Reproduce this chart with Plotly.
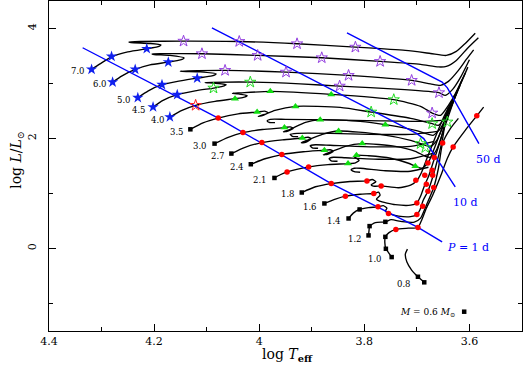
import plotly.graph_objects as go

# ---------------- evolutionary tracks (log Teff, log L/Lsun) ----------------
T70 = [4.319, 4.303, 4.281, 4.250, 4.214, 4.194, 4.187, 4.208, 4.244, 4.248, 4.227, 4.144, 4.038, 3.928, 3.817, 3.722, 3.674, 3.644, 3.625, 3.608, 3.589]
L70 = [3.256, 3.356, 3.483, 3.574, 3.632, 3.664, 3.701, 3.728, 3.746, 3.755, 3.764, 3.770, 3.764, 3.722, 3.661, 3.601, 3.546, 3.510, 3.583, 3.728, 3.915]
T60 = [4.279, 4.261, 4.236, 4.208, 4.173, 4.150, 4.143, 4.170, 4.200, 4.204, 4.189, 4.109, 4.003, 3.881, 3.770, 3.693, 3.659, 3.644, 3.625, 3.604, 3.583]
L60 = [3.025, 3.138, 3.256, 3.338, 3.388, 3.428, 3.465, 3.510, 3.528, 3.537, 3.543, 3.541, 3.510, 3.468, 3.401, 3.347, 3.301, 3.310, 3.419, 3.637, 3.831]
T50 = [4.231, 4.211, 4.185, 4.150, 4.118, 4.090, 4.082, 4.112, 4.147, 4.150, 4.135, 4.065, 3.949, 3.830, 3.710, 3.674, 3.655, 3.640, 3.621, 3.606, 3.592]
L50 = [2.742, 2.866, 2.978, 3.047, 3.098, 3.138, 3.174, 3.211, 3.220, 3.225, 3.230, 3.238, 3.207, 3.147, 3.056, 2.993, 2.966, 3.038, 3.238, 3.437, 3.613]
T45 = [4.202, 4.183, 4.156, 4.122, 4.087, 4.070, 4.063, 4.084, 4.103, 4.090, 4.017, 3.922, 3.847, 3.731, 3.658, 3.646, 3.632, 3.617, 3.600]
L45 = [2.572, 2.693, 2.797, 2.866, 2.917, 2.947, 2.978, 3.005, 3.015, 3.020, 3.025, 2.993, 2.953, 2.893, 2.833, 2.784, 2.893, 3.111, 3.432]
T40 = [4.170, 4.147, 4.121, 4.084, 4.046, 4.030, 4.023, 4.040, 4.051, 4.036, 3.979, 3.863, 3.744, 3.693, 3.671, 3.655, 3.640, 3.621, 3.603]
L40 = [2.390, 2.512, 2.603, 2.675, 2.724, 2.748, 2.779, 2.811, 2.820, 2.829, 2.857, 2.802, 2.706, 2.584, 2.463, 2.421, 2.603, 2.911, 3.298]
T35 = [4.131, 4.107, 4.078, 4.040, 4.004, 3.990, 3.983, 3.994, 4.002, 3.990, 3.970, 3.931, 3.846, 3.787, 3.712, 3.671, 3.659, 3.648, 3.629, 3.608]
L35 = [2.167, 2.285, 2.372, 2.448, 2.481, 2.497, 2.470, 2.416, 2.403, 2.439, 2.512, 2.584, 2.566, 2.481, 2.367, 2.270, 2.240, 2.367, 2.766, 3.189]
T30 = [4.085, 4.059, 4.031, 3.994, 3.952, 3.941, 3.935, 3.947, 3.954, 3.941, 3.912, 3.884, 3.808, 3.760, 3.703, 3.678, 3.669, 3.655, 3.636, 3.614]
L30 = [1.907, 2.022, 2.107, 2.163, 2.198, 2.212, 2.185, 2.131, 2.122, 2.167, 2.294, 2.343, 2.312, 2.252, 2.149, 2.076, 2.058, 2.185, 2.548, 3.069]
T27 = [4.053, 4.027, 3.995, 3.956, 3.918, 3.907, 3.901, 3.912, 3.920, 3.907, 3.880, 3.849, 3.770, 3.712, 3.693, 3.674, 3.661, 3.642, 3.618]
L27 = [1.726, 1.840, 1.926, 1.976, 2.009, 2.022, 1.995, 1.931, 1.922, 1.976, 2.076, 2.136, 2.076, 1.967, 1.907, 1.858, 1.986, 2.421, 2.966]
T24 = [4.016, 3.989, 3.957, 3.916, 3.876, 3.865, 3.859, 3.870, 3.878, 3.865, 3.836, 3.804, 3.741, 3.703, 3.684, 3.674, 3.663, 3.646, 3.623]
L24 = [1.532, 1.632, 1.708, 1.759, 1.786, 1.795, 1.768, 1.713, 1.704, 1.750, 1.858, 1.907, 1.858, 1.768, 1.677, 1.659, 1.786, 2.240, 2.875]
T21 = [3.971, 3.960, 3.947, 3.906, 3.869, 3.831, 3.817, 3.810, 3.819, 3.815, 3.792, 3.750, 3.716, 3.703, 3.690, 3.678, 3.661, 3.644, 3.629]
L21 = [1.283, 1.341, 1.392, 1.483, 1.526, 1.544, 1.559, 1.604, 1.668, 1.695, 1.686, 1.641, 1.550, 1.496, 1.459, 1.568, 1.967, 2.403, 2.779]
T18 = [3.919, 3.893, 3.863, 3.827, 3.795, 3.785, 3.778, 3.787, 3.783, 3.768, 3.735, 3.712, 3.700, 3.691, 3.680, 3.665, 3.650, 3.634]
L18 = [1.018, 1.123, 1.181, 1.218, 1.229, 1.254, 1.214, 1.160, 1.133, 1.138, 1.105, 1.151, 1.236, 1.387, 1.659, 2.022, 2.367, 2.675]
T16 = [3.876, 3.855, 3.836, 3.808, 3.782, 3.773, 3.770, 3.777, 3.771, 3.741, 3.712, 3.700, 3.693, 3.686, 3.677, 3.669, 3.655, 3.640]
L16 = [0.819, 0.897, 0.951, 0.987, 1.000, 1.024, 0.969, 0.897, 0.860, 0.797, 0.788, 0.829, 0.951, 1.133, 1.332, 1.568, 1.967, 2.566]
T14 = [3.830, 3.821, 3.809, 3.792, 3.774, 3.764, 3.757, 3.760, 3.754, 3.735, 3.712, 3.700, 3.694, 3.688, 3.679, 3.670, 3.661, 3.651, 3.644]
L14 = [0.546, 0.643, 0.710, 0.742, 0.757, 0.779, 0.733, 0.679, 0.637, 0.588, 0.579, 0.619, 0.706, 0.878, 1.042, 1.296, 1.604, 2.004, 2.457]
T12 = [3.792, 3.791, 3.790, 3.779, 3.760, 3.749, 3.728, 3.705, 3.693, 3.682, 3.668, 3.659, 3.651, 3.636, 3.621]
L12 = [0.238, 0.334, 0.407, 0.470, 0.485, 0.525, 0.488, 0.479, 0.552, 0.788, 1.109, 1.459, 1.918, 2.185, 2.367]
T10 = [3.748, 3.754, 3.759, 3.761, 3.760, 3.753, 3.740, 3.716, 3.698, 3.691, 3.682, 3.670, 3.655, 3.642, 3.631, 3.608, 3.586, 3.573]
L10 = [-0.156, -0.074, -0.005, 0.107, 0.212, 0.289, 0.347, 0.370, 0.383, 0.515, 0.733, 0.969, 1.314, 1.641, 1.846, 2.149, 2.412, 2.572]
T08 = [3.686, 3.698, 3.710, 3.719, 3.722, 3.718]
L08 = [-0.615, -0.514, -0.392, -0.247, -0.102, -0.011]

# blue loops (core helium burning), from the giant branch back to the loop tip
loop35_T = [3.653, 3.693, 3.770, 3.865, 3.950, 3.979, 3.985, 3.981, 3.970]
loop35_L = [2.330, 2.312, 2.321, 2.339, 2.348, 2.348, 2.321, 2.294, 2.289]
loop30_T = [3.661, 3.712, 3.789, 3.865, 3.928, 3.941, 3.937, 3.926]
loop30_L = [2.131, 2.076, 2.076, 2.094, 2.094, 2.076, 2.040, 2.035]
loop27_T = [3.667, 3.712, 3.789, 3.865, 3.893, 3.903, 3.899, 3.888]
loop27_L = [1.949, 1.858, 1.849, 1.877, 1.886, 1.868, 1.831, 1.822]
loop24_T = [3.670, 3.712, 3.770, 3.836, 3.859, 3.867, 3.863, 3.851]
loop24_L = [1.731, 1.632, 1.623, 1.650, 1.659, 1.632, 1.595, 1.586]
loop21_T = [3.678, 3.712, 3.760, 3.808, 3.819, 3.825, 3.819, 3.808]
loop21_L = [1.477, 1.405, 1.414, 1.459, 1.459, 1.432, 1.396, 1.387]

# ---------------- constant orbital period lines ----------------
p1_T = [4.336, 4.078, 3.863, 3.698, 3.652]
p1_L = [3.650, 2.372, 1.181, 0.383, 0.122]
p10_T = [4.090, 3.700, 3.687, 3.627]
p10_L = [4.013, 2.089, 1.998, 1.120]
p50_T = [3.833, 3.652, 3.642, 3.582]
p50_L = [3.922, 3.025, 2.920, 1.907]

# ---------------- model markers ----------------
blue_star_T = [4.319, 4.281, 4.214, 4.279, 4.236, 4.173, 4.231, 4.185, 4.118, 4.202, 4.156, 4.170]
blue_star_L = [3.256, 3.492, 3.632, 3.025, 3.256, 3.388, 2.742, 2.978, 3.098, 2.572, 2.797, 2.390]
purple_star_T = [4.144, 4.038, 3.928, 3.817, 4.109, 4.003, 3.881, 3.770, 4.065, 3.949, 3.830, 3.710, 3.847, 3.658, 3.671]
purple_star_L = [3.770, 3.764, 3.722, 3.661, 3.541, 3.510, 3.468, 3.401, 3.238, 3.207, 3.147, 3.056, 2.953, 2.833, 2.463]
green_star_T = [4.087, 4.017, 3.744, 3.787, 3.671, 3.642, 3.693, 3.684]
green_star_L = [2.917, 3.025, 2.706, 2.481, 2.270, 2.300, 1.907, 1.835]
red_star_T = [4.121]
red_star_L = [2.603]
green_tri_T = [4.046, 3.979, 3.863, 4.004, 3.931, 3.952, 3.884, 3.760, 3.918, 3.849, 3.876, 3.804, 3.831, 3.815, 3.703]
green_tri_L = [2.724, 2.857, 2.802, 2.481, 2.584, 2.198, 2.343, 2.252, 2.009, 2.136, 1.786, 1.907, 1.544, 1.695, 1.496]
red_dot_T = [4.078, 4.031, 3.995, 3.957, 3.947, 3.906, 3.863, 3.795, 3.768, 3.836, 3.782, 3.774, 3.754,
             3.740, 3.698, 3.700, 3.700, 3.689, 3.702, 3.682, 3.679, 3.668, 3.685, 3.670, 3.671, 3.679,
             3.667, 3.651, 3.631, 3.586]
red_dot_L = [2.372, 2.107, 1.926, 1.708, 1.392, 1.483, 1.181, 1.229, 1.138, 0.951, 1.000, 0.757, 0.637,
             0.347, 0.383, 0.619, 0.829, 0.770, 1.241, 1.169, 1.042, 1.109, 1.332, 1.332, 1.423, 1.555,
             1.653, 1.918, 1.846, 2.412]
black_sq_T = [4.131, 4.085, 4.053, 4.016, 3.971, 3.919, 3.876, 3.830, 3.809, 3.792, 3.790, 3.760,
              3.748, 3.759, 3.760, 3.686, 3.698, 3.610]
black_sq_L = [2.167, 1.907, 1.726, 1.532, 1.283, 1.018, 0.819, 0.546, 0.710, 0.238, 0.407, 0.485,
              -0.156, -0.005, 0.212, -0.615, -0.514, -1.149]

# ---------------- labels ----------------
mass_text = ["7.0", "6.0", "5.0", "4.5", "4.0", "3.5", "3.0", "2.7", "2.4", "2.1", "1.8", "1.6", "1.4", "1.2", "1.0", "0.8"]
mass_T = [4.345, 4.303, 4.257, 4.228, 4.192, 4.156, 4.112, 4.078, 4.042, 3.998, 3.946, 3.903, 3.858, 3.818, 3.779, 3.725]
mass_L = [3.220, 2.984, 2.693, 2.525, 2.330, 2.113, 1.864, 1.677, 1.477, 1.251, 0.987, 0.757, 0.503, 0.176, -0.198, -0.646]
period_text = ["50 d", "10 d", "<i>P</i> = 1 d"]
period_T = [3.564, 3.608, 3.602]
period_L = [1.623, 0.842, 0.025]
x_ticks = [4.4, 4.2, 4.0, 3.8, 3.6]
x_ticktext = ["4.4", "4.2", "4", "3.8", "3.6"]
x_minor = [4.3, 4.1, 3.9, 3.7]
y_ticks = [0, 2, 4]
y_ticktext = ["0", "2", "4"]
y_minor = [-1, 1, 3]

tracks = [(T70, L70), (T60, L60), (T50, L50), (T45, L45), (T40, L40), (T35, L35), (T30, L30),
          (T27, L27), (T24, L24), (T21, L21), (T18, L18), (T16, L16), (T14, L14), (T12, L12),
          (T10, L10), (T08, L08),
          (loop35_T, loop35_L), (loop30_T, loop30_L), (loop27_T, loop27_L),
          (loop24_T, loop24_L), (loop21_T, loop21_L)]

FONT = "DejaVu Serif"
fig = go.Figure()

for t, l in tracks:
    fig.add_trace(go.Scatter(x=t, y=l, mode="lines",
                             line=dict(color="black", width=1.35, shape="spline", smoothing=0.6),
                             hoverinfo="skip"))

for t, l in [(p1_T, p1_L), (p10_T, p10_L), (p50_T, p50_L)]:
    fig.add_trace(go.Scatter(x=t, y=l, mode="lines", line=dict(color="#0000ff", width=1.4)))

def add_markers(t, l, symbol, color, size, lw=0):
    fig.add_trace(go.Scatter(x=t, y=l, mode="markers",
                             marker=dict(symbol=symbol, color=color, size=size,
                                         line=dict(width=lw, color=color))))

add_markers(purple_star_T, purple_star_L, "star-open", "#9440e0", 8.5, 1)
add_markers(green_star_T, green_star_L, "star-open", "#22dd22", 8.5, 1)
add_markers(red_star_T, red_star_L, "star-open", "#ff2020", 8.5, 1)
add_markers(green_tri_T, green_tri_L, "triangle-up", "#11dd11", 7)
add_markers(red_dot_T, red_dot_L, "circle", "#ff0000", 5.5)
add_markers(blue_star_T, blue_star_L, "star", "#1020ee", 8.5)
add_markers(black_sq_T, black_sq_L, "square", "black", 4.5)

annotations = []
for txt, t, l in zip(mass_text, mass_T, mass_L):
    annotations.append(dict(x=t, y=l, xref="x", yref="y", text=txt, showarrow=False,
                            font=dict(family=FONT, size=8.5, color="black")))
for txt, t, l in zip(period_text, period_T, period_L):
    annotations.append(dict(x=t, y=l, xref="x", yref="y", text=txt, showarrow=False,
                            font=dict(family=FONT, size=11, color="#0000ff")))
annotations.append(dict(x=3.679, y=-1.16, xref="x", yref="y",
                        text="<i>M</i> = 0.6 <i>M</i><sub>⊙</sub>", showarrow=False,
                        font=dict(family=FONT, size=9, color="black")))
annotations.append(dict(x=0.504, y=-0.072, xref="paper", yref="paper", yanchor="middle",
                        text="log <i>T</i><sub><b>eff</b></sub>", showarrow=False,
                        font=dict(family=FONT, size=14, color="black")))
annotations.append(dict(x=-0.09, y=0.52, xref="paper", yref="paper", textangle=-90,
                        text="log <i>L</i>/<i>L</i><sub>⊙</sub>", showarrow=False,
                        font=dict(family=FONT, size=14, color="black")))

fig.update_layout(width=527, height=374, margin=dict(l=49, r=5, t=1, b=43, autoexpand=False),
                  plot_bgcolor="white", paper_bgcolor="white", showlegend=False,
                  font=dict(family=FONT, color="black"), annotations=annotations)
fig.update_xaxes(range=[4.4, 3.5], showline=True, linecolor="black", linewidth=1, mirror="ticks",
                 ticks="inside", ticklen=7, tickwidth=1, tickcolor="black", automargin=False,
                 tickmode="array", tickvals=x_ticks, ticktext=x_ticktext,
                 tickfont=dict(family=FONT, size=11), showgrid=False, zeroline=False,
                 minor=dict(ticks="inside", ticklen=4, tickwidth=1, tickcolor="black",
                            tickmode="array", tickvals=x_minor, showgrid=False))
fig.update_yaxes(range=[-1.5, 4.5], showline=True, linecolor="black", linewidth=1, mirror="ticks",
                 ticks="inside", ticklen=7, tickwidth=1, tickcolor="black", automargin=False,
                 tickmode="array", tickvals=y_ticks, ticktext=y_ticktext, tickangle=-90,
                 ticklabelstandoff=8,
                 tickfont=dict(family=FONT, size=11), showgrid=False, zeroline=False,
                 minor=dict(ticks="inside", ticklen=4, tickwidth=1, tickcolor="black",
                            tickmode="array", tickvals=y_minor, showgrid=False))

fig.write_html("out.html", config={"displayModeBar": False},
               post_script="document.body.style.margin='0';document.body.style.overflow='hidden';")
